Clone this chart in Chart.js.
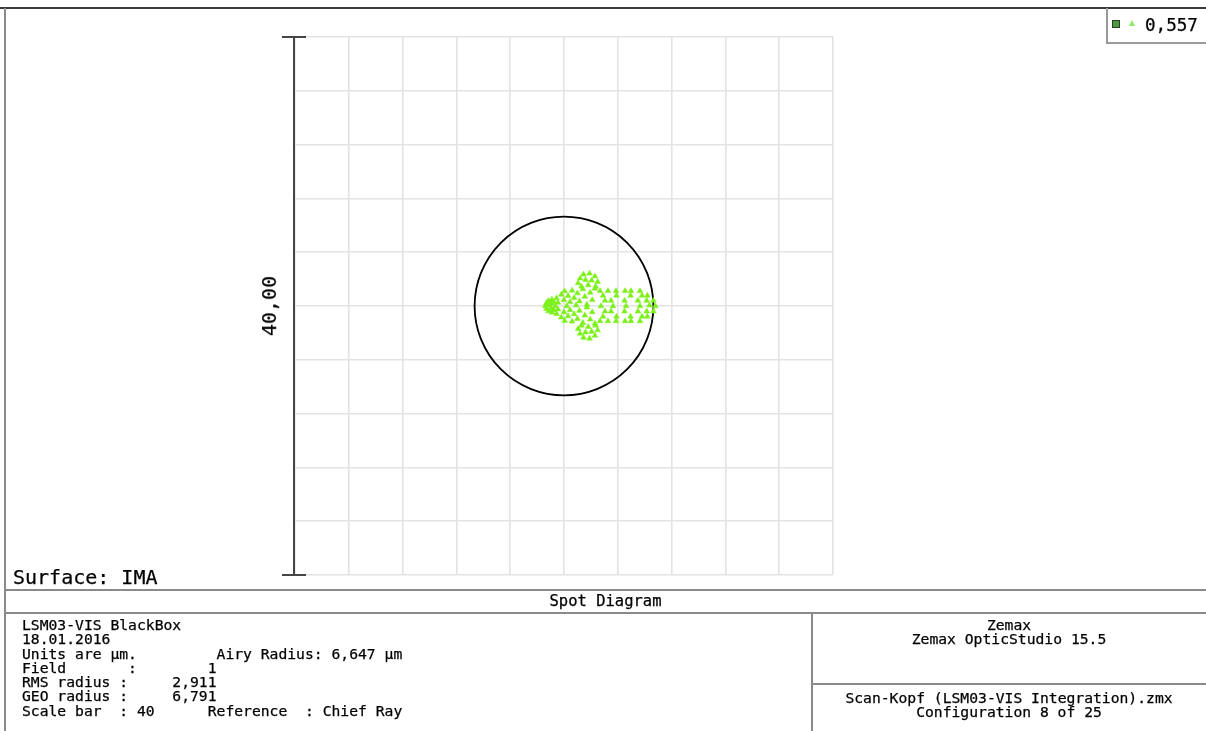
<!DOCTYPE html>
<html>
<head>
<meta charset="utf-8">
<script src="https://cdn.jsdelivr.net/npm/chart.js@4.4.1/dist/chart.umd.min.js"></script>
<style>
  html, body { margin: 0; padding: 0; background: #fff; }
  #page { position: relative; width: 1206px; height: 731px; overflow: hidden; background: #fff;
          font-family: "DejaVu Sans Mono", "Liberation Mono", monospace; color: #000; }
  #spot { position: absolute; left: 0; top: 0; }
  .ln { position: absolute; background: #8a8a8a; }
  .txt { position: absolute; white-space: pre; -webkit-text-stroke: 0.25px #000; }
</style>
</head>
<body>
<div id="page">
  <canvas id="spot" width="1206" height="731"></canvas>

  <!-- frame -->
  <div class="ln" style="left:0;top:7px;width:1206px;height:2px;background:#3a3a3a"></div>
  <div class="ln" style="left:4px;top:8px;width:2px;height:723px"></div>
  <div class="ln" style="left:5px;top:589px;width:1201px;height:2px"></div>
  <div class="ln" style="left:5px;top:612px;width:1201px;height:2px"></div>
  <div class="ln" style="left:811px;top:613px;width:2px;height:118px"></div>
  <div class="ln" style="left:812px;top:683px;width:394px;height:2px"></div>

  <!-- wavelength legend -->
  <div style="position:absolute;left:1106px;top:8px;width:100px;height:34px;border-left:2px solid #9a9a9a;border-bottom:2px solid #9a9a9a;"></div>
  <div style="position:absolute;left:1112px;top:20px;width:6px;height:6px;border:1px solid #2b3d2b;background:#4f9a3a;"></div>
  <div style="position:absolute;left:1129px;top:20px;width:0;height:0;border-left:3px solid transparent;border-right:3px solid transparent;border-bottom:6px solid #8ee86a;"></div>
  <div class="txt" id="legendText" style="left:1145px;top:15px;font-size:17.6px;line-height:20px;"></div>

  <div class="txt" id="surface" style="left:13px;top:565px;font-size:20px;line-height:24px;"></div>
  <div class="txt" id="scaleLabel" style="left:269px;top:306px;font-size:20px;line-height:24px;transform:translate(-50%,-50%) rotate(-90deg);"></div>
  <div class="txt" id="title" style="left:5px;top:593px;width:1201px;text-align:center;font-size:15.5px;line-height:16px;"></div>
  <div class="txt" id="infoLeft" style="left:22px;top:618px;font-size:14.7px;line-height:14.3px;"></div>
  <div class="txt" id="infoRight1" style="left:812px;top:618px;width:394px;text-align:center;font-size:14.7px;line-height:14.3px;"></div>
  <div class="txt" id="infoRight2" style="left:812px;top:691px;width:394px;text-align:center;font-size:14.7px;line-height:14.3px;"></div>
</div>

<script>
// Ray intercepts on the image surface, in micrometres relative to the chief ray
const spotX = [
  -1.40, -1.30, -1.30, -1.15, -1.15, -1.10, -0.95, -0.95, -0.90, -0.90, -0.75, -0.75, -0.65, -0.55, -0.55, -0.45, -0.45,
  -0.20, -0.20, 0.00, 0.00, 0.05, 0.05, 0.20, 0.30, 0.30, 0.45, 0.45, 0.60, 0.60, 0.75, 0.75, 0.90,
  1.00, 1.00, 1.15, 1.15, 1.40, 1.40, 1.55, 1.55, 1.70, 1.70, 1.95, 1.95, 2.10, 2.10, 2.30, 2.30,
  1.05, 1.20, 1.45, 1.90, 2.30, 2.50, 2.35, 1.80, 1.30, 1.60, 2.05,
  1.05, 1.20, 1.45, 1.90, 2.30, 2.50, 2.35, 1.80, 1.30, 1.60, 2.05,
  2.68, 3.27, 3.87, 4.54, 4.98, 5.65,
  2.68, 3.27, 3.87, 4.54, 4.98, 5.65,
  6.20, 6.65, 6.79, 6.65, 6.20,
  3.05, 3.50, 4.50, 5.50, 6.15,
  3.05, 3.50, 4.50, 5.50, 6.15,
  2.90, 3.90, 4.95, 5.80,
  2.90, 3.90, 4.95, 5.80,
  2.75, 3.64, 4.61, 5.65, 6.35
];
const spotY = [
  0.00, 0.22, -0.22, 0.38, -0.38, 0.05, 0.18, -0.18, 0.48, -0.48, 0.30, -0.30, 0.00, 0.58, -0.58, 0.25, -0.25,
  0.85, -0.85, 0.45, -0.45, 1.10, -1.10, 0.00, 0.75, -0.75, 0.30, -0.30, 1.15, -1.15, 0.60, -0.60, 0.05,
  0.95, -0.95, 0.35, -0.35, 1.25, -1.25, 0.70, -0.70, 0.10, -0.10, 1.00, -1.00, 0.45, -0.45, 1.30, -1.30,
  1.70, 2.05, 2.35, 2.42, 2.20, 1.80, 1.45, 1.55, 1.45, 1.95, 1.90,
  -1.70, -2.05, -2.35, -2.42, -2.20, -1.80, -1.45, -1.55, -1.45, -1.95, -1.90,
  1.12, 1.12, 1.12, 1.12, 1.12, 1.12,
  -1.12, -1.12, -1.12, -1.12, -1.12, -1.12,
  0.78, 0.40, 0.00, -0.40, -0.78,
  0.40, 0.40, 0.40, 0.40, 0.40,
  -0.40, -0.40, -0.40, -0.40, -0.40,
  0.78, 0.78, 0.78, 0.78,
  -0.78, -0.78, -0.78, -0.78,
  0.00, 0.00, 0.00, 0.00, 0.05
];

const wavelengthLabel = "0,557";
const scaleBar = 40;            // µm, full height of the plot box
const airyRadius = 6.647;       // µm
const axisTicks = [-20, -16, -12, -8, -4, 0, 4, 8, 12, 16, 20];
const scaleBarLabel = "40,00";
const surfaceLabel = "Surface: IMA";
const plotTitle = "Spot Diagram";
const infoLeftLines = [
  "LSM03-VIS BlackBox",
  "18.01.2016",
  "Units are µm.         Airy Radius: 6,647 µm",
  "Field       :        1",
  "RMS radius :     2,911",
  "GEO radius :     6,791",
  "Scale bar  : 40      Reference  : Chief Ray"
];
const infoRightTop = ["Zemax", "Zemax OpticStudio 15.5"];
const infoRightBottom = ["Scan-Kopf (LSM03-VIS Integration).zmx", "Configuration 8 of 25"];

document.getElementById("legendText").textContent = wavelengthLabel;
document.getElementById("surface").textContent = surfaceLabel;
document.getElementById("scaleLabel").textContent = scaleBarLabel;
document.getElementById("title").textContent = plotTitle;
document.getElementById("infoLeft").textContent = infoLeftLines.join("\n");
document.getElementById("infoRight1").textContent = infoRightTop.join("\n");
document.getElementById("infoRight2").textContent = infoRightBottom.join("\n");

const points = spotX.map((x, i) => ({ x: x, y: spotY[i] }));
const half = scaleBar / 2;

// Airy disc and vertical scale bar, both placed through the chart scales
const spotDecor = {
  id: "spotDecor",
  beforeDatasetsDraw(chart) {
    const { ctx, scales: { x, y } } = chart;
    const cx = x.getPixelForValue(0), cy = y.getPixelForValue(0);
    const r = x.getPixelForValue(airyRadius) - cx;
    ctx.save();
    ctx.strokeStyle = "#000";
    ctx.lineWidth = 1.8;
    ctx.beginPath();
    ctx.arc(cx, cy, r, 0, Math.PI * 2);
    ctx.stroke();

    const bx = x.getPixelForValue(-half) - 1;
    const top = y.getPixelForValue(half), bot = y.getPixelForValue(-half);
    ctx.strokeStyle = "#454545";
    ctx.lineWidth = 2;
    ctx.beginPath();
    ctx.moveTo(bx, top); ctx.lineTo(bx, bot);
    ctx.moveTo(bx - 12, top); ctx.lineTo(bx + 12, top);
    ctx.moveTo(bx - 12, bot); ctx.lineTo(bx + 12, bot);
    ctx.stroke();
    ctx.restore();
  }
};

const axisCommon = {
  type: "linear",
  min: -half,
  max: half,
  afterBuildTicks(scale) { scale.ticks = axisTicks.map(v => ({ value: v })); },
  ticks: { display: false },
  grid: { color: "#e3e3e3", lineWidth: 1.6, drawTicks: false },
  border: { display: false }
};

new Chart(document.getElementById("spot"), {
  type: "scatter",
  data: {
    datasets: [{
      label: wavelengthLabel,
      data: points,
      pointStyle: "triangle",
      pointRadius: 3.3,
      pointBackgroundColor: "#7cf01a",
      pointBorderColor: "#7cf01a",
      pointBorderWidth: 0.5
    }]
  },
  options: {
    responsive: false,
    animation: false,
    devicePixelRatio: 1,
    layout: { padding: { left: 295, top: 37, right: 373, bottom: 156 } },
    plugins: { legend: { display: false }, tooltip: { enabled: false } },
    scales: { x: axisCommon, y: axisCommon }
  },
  plugins: [spotDecor]
});
</script>
</body>
</html>
